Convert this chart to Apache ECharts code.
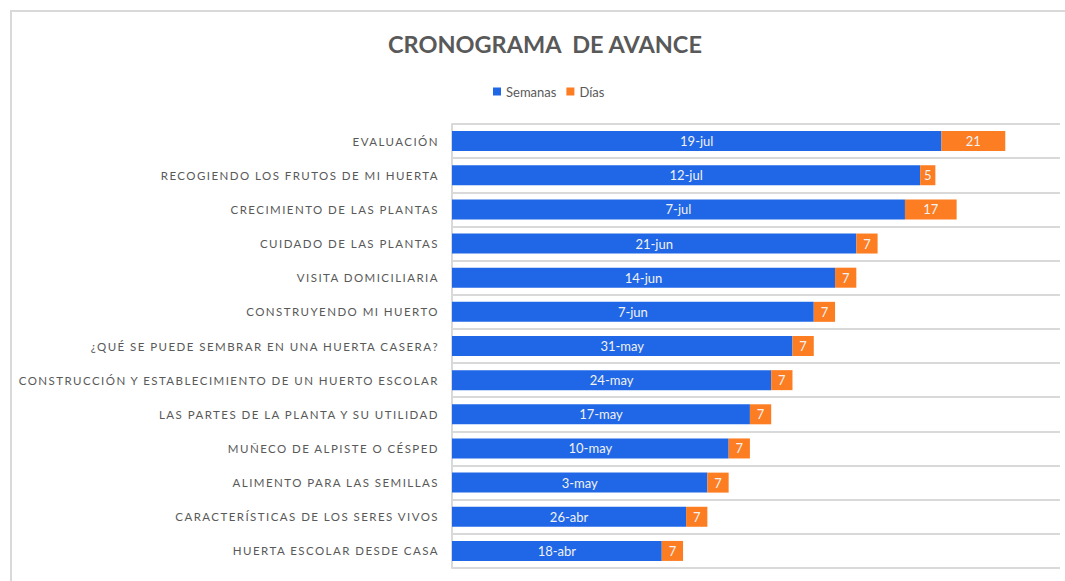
<!DOCTYPE html>
<html lang="es">
<head>
<meta charset="UTF-8">
<title>Cronograma de avance</title>
<script src="https://cdn.jsdelivr.net/npm/echarts@6/dist/echarts.min.js"></script>
<style>
  html, body { margin: 0; padding: 0; background: #fff; overflow: hidden; }
  #frame { position: absolute; left: 10px; top: 10px; width: 1100px; height: 600px; border: 2px solid #d9d9d9; }
  #main { position: absolute; left: 0; top: 0; width: 1065px; height: 581px; }
  /* las etiquetas del eje vertical llevan espaciado entre letras */
  #main text[text-anchor="end"] { letter-spacing: 1.45px; }
</style>
</head>
<body>
<div id="frame"></div>
<div id="main"></div>
<script>
// actividades, de arriba hacia abajo
var tareas = [
  'EVALUACIÓN',
  'RECOGIENDO LOS FRUTOS DE MI HUERTA',
  'CRECIMIENTO DE LAS PLANTAS',
  'CUIDADO DE LAS PLANTAS',
  'VISITA DOMICILIARIA',
  'CONSTRUYENDO MI HUERTO',
  '¿QUÉ SE PUEDE SEMBRAR EN UNA HUERTA CASERA?',
  'CONSTRUCCIÓN Y ESTABLECIMIENTO DE UN HUERTO ESCOLAR',
  'LAS PARTES DE LA PLANTA Y SU UTILIDAD',
  'MUÑECO DE ALPISTE O CÉSPED',
  'ALIMENTO PARA LAS SEMILLAS',
  'CARACTERÍSTICAS DE LOS SERES VIVOS',
  'HUERTA ESCOLAR DESDE CASA'
];
// fecha de inicio (Semanas)
var semanas = [
  '2021-07-19', '2021-07-12', '2021-07-07', '2021-06-21', '2021-06-14',
  '2021-06-07', '2021-05-31', '2021-05-24', '2021-05-17', '2021-05-10',
  '2021-05-03', '2021-04-26', '2021-04-18'
];
// duración (Días)
var dias = [21, 5, 17, 7, 7, 7, 7, 7, 7, 7, 7, 7, 7];

var meses = ['ene', 'feb', 'mar', 'abr', 'may', 'jun', 'jul', 'ago', 'sep', 'oct', 'nov', 'dic'];

function aDia(s) {
  return Date.parse(s + 'T00:00:00Z') / 86400000;
}
function etiquetaFecha(n) {
  var d = new Date(n * 86400000);
  return d.getUTCDate() + '-' + meses[d.getUTCMonth()];
}

var myChart = echarts.init(document.getElementById('main'), null, { renderer: 'svg' });

var fuente = 'Lato, "Open Sans", sans-serif';

option = {
  animation: false,
  textStyle: { fontFamily: fuente },
  title: {
    text: 'CRONOGRAMA  DE AVANCE',
    left: 383,
    top: 27,
    textStyle: { fontFamily: fuente, fontSize: 23.5, fontWeight: 'bold', color: '#595959' }
  },
  legend: {
    data: ['Semanas', 'Días'],
    left: 488,
    top: 80,
    icon: 'rect',
    itemWidth: 8,
    itemHeight: 8,
    itemGap: 10,
    textStyle: { fontFamily: fuente, fontSize: 13, color: '#595959' }
  },
  grid: {
    left: 452,
    top: 124,
    right: 5,
    bottom: 13,
    containLabel: false
  },
  xAxis: {
    type: 'value',
    show: false,
    min: aDia('2021-02-08'),
    max: aDia('2021-08-27')
  },
  yAxis: {
    type: 'category',
    inverse: true,
    data: tareas,
    axisLine: { show: true, lineStyle: { color: '#d9d9d9', width: 2 } },
    axisTick: { show: false },
    splitLine: { show: true, lineStyle: { color: '#d9d9d9', width: 2 } },
    axisLabel: { fontFamily: fuente, fontSize: 11.5, color: '#595959', margin: 13 }
  },
  series: [
    {
      name: 'Semanas',
      type: 'bar',
      stack: 'avance',
      barWidth: 20,
      data: semanas.map(aDia),
      itemStyle: { color: '#1F67E6' },
      label: {
        show: true,
        position: 'inside',
        color: '#f2f2f2',
        fontFamily: fuente,
        fontSize: 13,
        formatter: function (p) { return etiquetaFecha(p.value); }
      }
    },
    {
      name: 'Días',
      type: 'bar',
      stack: 'avance',
      barWidth: 20,
      data: dias,
      itemStyle: { color: '#FC7D22' },
      label: {
        show: true,
        position: 'inside',
        color: '#f2f2f2',
        fontFamily: fuente,
        fontSize: 13,
        formatter: '{c}'
      }
    }
  ]
};

myChart.setOption(option);
</script>
</body>
</html>
